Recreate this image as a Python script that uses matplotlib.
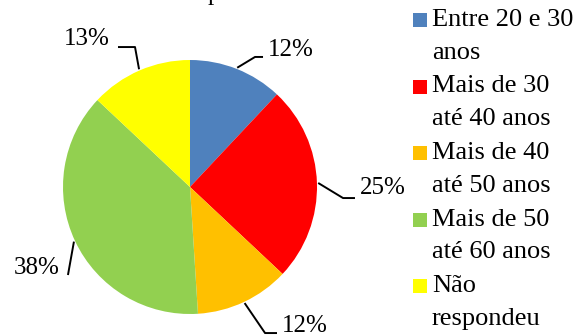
import matplotlib

matplotlib.use("Agg")
import matplotlib.pyplot as plt
import numpy as np
from matplotlib.patches import Rectangle

plt.rcParams["font.family"] = ["Liberation Serif", "DejaVu Serif"]

# Faixas etárias e percentuais
categories = [
    "Entre 20 e 30\nanos",
    "Mais de 30\naté 40 anos",
    "Mais de 40\naté 50 anos",
    "Mais de 50\naté 60 anos",
    "Não\nrespondeu",
]
values = [12, 25, 12, 38, 13]
colors = ["#4F81BD", "#FF0000", "#FFC000", "#92D050", "#FFFF00"]

# label layout (pie radius = 1): elbow, end of leader, text anchor, alignment
elbows = [(0.512, 1.024), (1.205, -0.087), (0.591, -1.150), (-0.961, -0.693), (-0.433, 1.102)]
ends = [(0.575, 1.024), (1.299, -0.087), (0.685, -1.150), (-0.961, -0.693), (-0.567, 1.102)]
text_pos = [(0.614, 1.079), (1.339, -0.008), (0.724, -1.094), (-1.024, -0.634), (-0.630, 1.165)]
text_ha = ["left", "left", "left", "right", "right"]

W, H = 577, 335
fig = plt.figure(figsize=(W / 100, H / 100), dpi=100)

cx, cy, r = 190, 187, 127
ax = fig.add_axes([(cx - r) / W, (H - cy - r) / H, 2 * r / W, 2 * r / H])
wedges, _ = ax.pie(values, colors=colors, startangle=90, counterclock=False, radius=1.0)
ax.set_xlim(-1, 1)
ax.set_ylim(-1, 1)
ax.set_aspect("equal")
ax.axis("off")

for w, v, el, en, tp, ha in zip(wedges, values, elbows, ends, text_pos, text_ha):
    mid = np.deg2rad((w.theta1 + w.theta2) / 2.0)
    start = (np.cos(mid) * 1.01, np.sin(mid) * 1.01)
    ax.plot([start[0], el[0], en[0]], [start[1], el[1], en[1]],
            color="black", lw=1.4, clip_on=False, solid_capstyle="butt")
    ax.text(tp[0], tp[1], f"{v}%", ha=ha, va="center", fontsize=18, clip_on=False)

# title sits mostly above the canvas
fig.text(255 / W, 1.0, "por idade", ha="center", va="baseline", fontsize=18)

# legend, drawn by hand so squares line up with the first text line
for i, (lab, c) in enumerate(zip(categories, colors)):
    top = 13 + i * 66.5
    fig.patches.append(Rectangle((413 / W, (H - top - 14) / H), 14 / W, 14 / H,
                                 transform=fig.transFigure, facecolor=c, edgecolor="none"))
    fig.text(432 / W, (H - top + 4) / H, lab, ha="left", va="top",
             fontsize=19, linespacing=1.63)

fig.savefig("out.png", dpi=100)
plt.close(fig)
